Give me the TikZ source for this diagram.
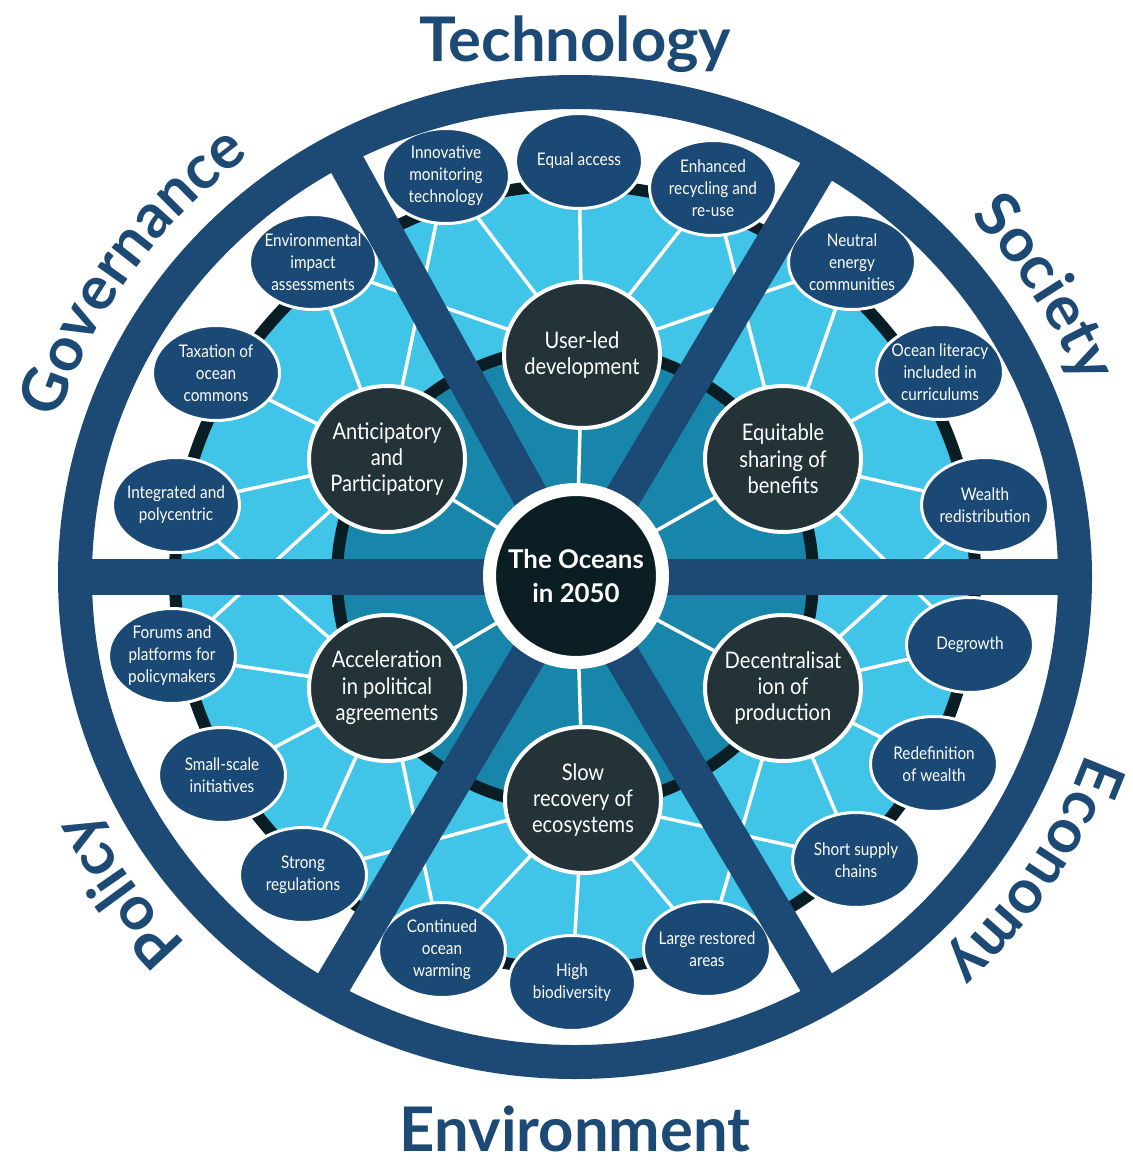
\documentclass[tikz,border=0pt]{standalone}
\usepackage{fontspec}
\newfontfamily\satfont[FakeStretch=0.88]{Lato}
\newfontfamily\ctrfont{Lato}
\usetikzlibrary{calc,shapes.geometric,decorations.text}
\definecolor{ringblue}{RGB}{28,74,116}
\definecolor{satblue}{RGB}{27,73,117}
\definecolor{maindark}{RGB}{35,51,56}
\definecolor{ctrdark}{RGB}{10,30,36}
\definecolor{cyanc}{RGB}{64,196,232}
\definecolor{tealc}{RGB}{24,134,170}
\definecolor{ringblk}{RGB}{8,30,36}
\newcommand\mylabfont{\ctrfont\bfseries\fontsize{35}{40}\selectfont}
\pgfdeclarelayer{bgl}
\pgfdeclarelayer{webl}
\pgfdeclarelayer{satl}
\pgfdeclarelayer{spokel}
\pgfsetlayers{bgl,webl,satl,spokel,main}
\begin{document}
\begin{tikzpicture}[x=0.02cm,y=0.02cm,
  sat/.style={ellipse, draw=white, line width=0.06cm, fill=satblue, minimum width=2.54cm, minimum height=1.9cm, inner sep=0pt},
  sattext/.style={align=center, text=white, font=\satfont\fontsize{9.9}{12.5}\selectfont, inner sep=0pt},
  mainc/.style={ellipse, draw=white, line width=0.08cm, fill=maindark, minimum width=3.12cm, minimum height=2.92cm, inner sep=0pt},
  maintext/.style={align=center, text=white, font=\satfont\fontsize{13}{15}\selectfont, inner sep=0pt},
  ctrc/.style={circle, draw=white, line width=0.26cm, fill=ctrdark, minimum size=3.46cm, inner sep=0pt, align=center, text=white, font=\ctrfont\bfseries\fontsize{14.7}{19.8}\selectfont},
  web/.style={draw=white, line width=0.07cm},
  spoke/.style={draw=ringblue, line width=0.72cm},
  lab/.style={text=ringblue, font=\mylabfont, inner sep=0pt},
  arclab/.style={decorate, decoration={text along path, text align=center, text color=ringblue, text={|\mylabfont|#1}}}]
\useasboundingbox (0,0) rectangle (1132,-1162);
\coordinate (C) at (575,-577);
\begin{pgfonlayer}{bgl}
\fill[white] (0,0) rectangle (1132,-1162);
\fill[cyanc] (C) ellipse [x radius=400, y radius=392];
\draw[ringblk, line width=0.24cm] (C) ellipse [x radius=400, y radius=392];
\fill[tealc] (C) ellipse [x radius=238, y radius=230];
\draw[ringblk, line width=0.24cm] (C) ellipse [x radius=238, y radius=230];
\end{pgfonlayer}

% satellites
\begin{pgfonlayer}{satl}
\node[sat] (t1) at (446,-176) {};
\node[sattext] (t1x) at (t1) {Innovative\\monitoring\\technology};
\node[sat] (t2) at (579,-161) {};
\node[sattext] (t2x) at (t2) {Equal access};
\node[sat] (t3) at (713,-188) {};
\node[sattext] (t3x) at (t3) {Enhanced\\recycling and\\re-use};
\node[sat] (s1) at (852,-262) {};
\node[sattext] (s1x) at (s1) {Neutral\\energy\\communities};
\node[sat] (s2) at (940,-372) {};
\node[sattext] (s2x) at (s2) {Ocean literacy\\included in\\curriculums};
\node[sat] (s3) at (985,-505) {};
\node[sattext] (s3x) at (s3) {Wealth\\redistribution};
\node[sat] (e1) at (970,-645) {};
\node[sattext] (e1x) at (e1) {Degrowth};
\node[sat] (e2) at (934,-764) {};
\node[sattext] (e2x) at (e2) {Redefinition\\of wealth};
\node[sat] (e3) at (856,-860) {};
\node[sattext] (e3x) at (e3) {Short supply\\chains};
\node[sat] (v1) at (707,-949) {};
\node[sattext] (v1x) at (v1) {Large restored\\areas};
\node[sat] (v2) at (572,-983) {};
\node[sattext] (v2x) at (v2) {High\\biodiversity};
\node[sat] (v3) at (442,-950) {};
\node[sattext] (v3x) at (v3) {Continued\\ocean\\warming};
\node[sat] (p1) at (303,-875) {};
\node[sattext] (p1x) at (p1) {Strong\\regulations};
\node[sat] (p2) at (222,-775) {};
\node[sattext] (p2x) at (p2) {Small-scale\\initiatives};
\node[sat] (p3) at (172,-656) {};
\node[sattext] (p3x) at (p3) {Forums and\\platforms for\\policymakers};
\node[sat] (g1) at (176,-505) {};
\node[sattext] (g1x) at (g1) {Integrated and\\polycentric};
\node[sat] (g2) at (216,-373) {};
\node[sattext] (g2x) at (g2) {Taxation of\\ocean\\commons};
\node[sat] (g3) at (313,-262) {};
\node[sattext] (g3x) at (g3) {Environmental\\impact\\assessments};
\end{pgfonlayer}

% main circles
\node[mainc] (m1) at (582,-355) {};
\node[maintext] (m1x) at (m1) {User-led\\development};
\node[mainc] (m2) at (783,-459) {};
\node[maintext] (m2x) at (m2) {Equitable\\sharing of\\benefits};
\node[mainc] (m3) at (783,-688) {};
\node[maintext] (m3x) at (m3) {Decentralisat\\ion of\\production};
\node[mainc] (m4) at (583,-800) {};
\node[maintext] (m4x) at (m4) {Slow\\recovery of\\ecosystems};
\node[mainc] (m5) at (387,-688) {};
\node[maintext] (m5x) at (m5) {Acceleration\\in political\\agreements};
\node[mainc] (m6) at (387,-459) {};
\node[maintext] (m6x) at (m6) {Anticipatory\\and\\Participatory};

% centre
\node[ctrc] (ctr) at (576,-576) {The Oceans\\in 2050};

% web
\begin{pgfonlayer}{webl}
\foreach \a/\b in {m1/t1,m1/t2,m1/t3,m1/g3,m1/s1,
                   m2/t3,m2/s1,m2/s2,m2/s3,m2/e1,
                   m3/s3,m3/e1,m3/e2,m3/e3,m3/v1,
                   m4/e3,m4/v1,m4/v2,m4/v3,m4/p1,
                   m5/v3,m5/p1,m5/p2,m5/p3,m5/g1,
                   m6/p3,m6/g1,m6/g2,m6/g3,m6/t1,
                   ctr/m1,ctr/m2,ctr/m3,ctr/m4,ctr/m5,ctr/m6}
  \draw[web] (\a.center) -- (\b.center);
\end{pgfonlayer}

% spokes
\coordinate (k0) at (1075,-577);
\coordinate (k60) at (825,-157);
\coordinate (k120) at (343,-157);
\coordinate (k180) at (75,-577);
\coordinate (k240) at (325,-997);
\coordinate (k300) at (825,-997);
\begin{pgfonlayer}{spokel}
\foreach \k in {k0,k60,k120,k180,k240,k300}
  \draw[spoke] (C) -- (\k);
\end{pgfonlayer}

% outer ring
\draw[ringblue, line width=0.68cm] (C) ellipse [x radius=500, y radius=485];

% labels
\node[lab, anchor=base] (ltech) at (575,-62) {Technology};
\node[lab, anchor=base] (lenv) at (575,-1151) {Environment};
\path[arclab=Governance] ($(C)+(185:542 and 527)$) arc[start angle=185, end angle=105, x radius=542, y radius=527];
\path[arclab=Society] ($(C)+(72:542 and 527)$) arc[start angle=72, end angle=-8, x radius=542, y radius=527];
\path[arclab=Economy] ($(C)+(7:542 and 527)$) arc[start angle=7, end angle=-73, x radius=542, y radius=527];
\path[arclab=Policy] ($(C)+(255:542 and 527)$) arc[start angle=255, end angle=175, x radius=542, y radius=527];
\end{tikzpicture}
\end{document}
